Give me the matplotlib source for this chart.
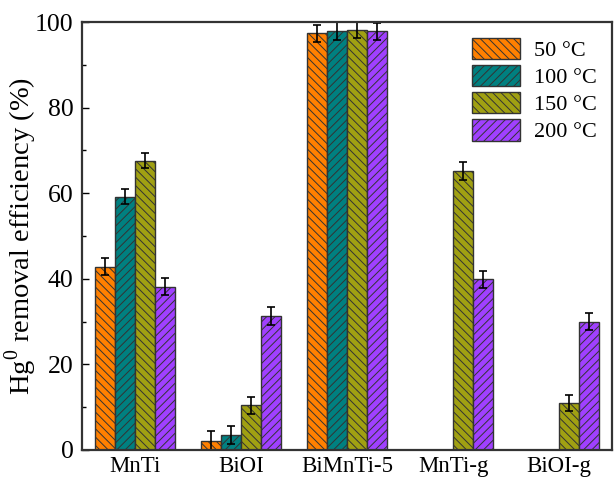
import matplotlib
matplotlib.use("Agg")
import matplotlib.pyplot as plt
import numpy as np

plt.rcParams['font.family'] = ['Liberation Serif', 'DejaVu Serif']
plt.rcParams['mathtext.fontset'] = 'custom'
plt.rcParams['mathtext.rm'] = 'Liberation Serif'
plt.rcParams['hatch.linewidth'] = 0.7
plt.rcParams['hatch.color'] = '#222222'

# catalysts and removal efficiency at each temperature (nan = not measured)
samples = ['MnTi', 'BiOI', 'BiMnTi-5', 'MnTi-g', 'BiOI-g']
temps = ['50 °C', '100 °C', '150 °C', '200 °C']
eff_50 = [42.8, 2.0, 97.4, np.nan, np.nan]
eff_100 = [59.2, 3.5, 97.9, np.nan, np.nan]
eff_150 = [67.6, 10.5, 98.2, 65.2, 11.0]
eff_200 = [38.1, 31.3, 97.8, 39.9, 30.0]
err_50 = [2.0, 2.5, 2.0, np.nan, np.nan]
err_100 = [1.8, 2.0, 2.0, np.nan, np.nan]
err_150 = [1.8, 2.0, 2.0, 2.0, 1.8]
err_200 = [2.0, 2.0, 2.0, 2.0, 2.0]

colors = ['#FF8000', '#008080', '#A0A012', '#A040FF']
hatches = ['\\\\\\\\', '////', '\\\\\\\\', '////']

fig = plt.figure(figsize=(6.14, 4.79), dpi=100)
ax = fig.add_axes([82/614, 1-450/479, 530/614, 428/479])

x = np.arange(len(samples))
w = 0.19
series = [eff_50, eff_100, eff_150, eff_200]
errs = [err_50, err_100, err_150, err_200]
for i in range(4):
    pos = x + (i - 1.5) * w
    ax.bar(pos, series[i], w, color=colors[i], edgecolor='#333333',
           linewidth=1.0, hatch=hatches[i], label=temps[i])
    ax.errorbar(pos, series[i], yerr=errs[i], fmt='none', ecolor='black',
                elinewidth=1.2, capsize=3, capthick=1.2)

ax.set_xlim(-0.5, 4.5)
ax.set_ylim(0, 100)
ax.set_xticks(x)
ax.set_xticklabels(samples)
ax.set_yticks([0, 20, 40, 60, 80, 100])
ax.set_yticks(np.arange(10, 100, 20), minor=True)
ax.tick_params(axis='y', which='major', direction='in', length=5, width=1,
               labelsize=18.5, pad=6)
ax.tick_params(axis='y', which='minor', direction='in', length=3, width=1)
ax.tick_params(axis='x', length=0, labelsize=16.5, pad=4)
for s in ax.spines.values():
    s.set_linewidth(1.6)
    s.set_color('#333333')

ax.set_ylabel('Hg$^{0}$ removal efficiency (%)', fontsize=20.5)
ax.yaxis.set_label_coords(-0.082, 0.5)

leg = ax.legend(loc='upper right', bbox_to_anchor=(1.0, 1.0), frameon=False,
                fontsize=16, handlelength=2.15, handleheight=1.1,
                handletextpad=0.6, labelspacing=0.18, borderaxespad=0.3)

fig.savefig('out.png', dpi=100)
